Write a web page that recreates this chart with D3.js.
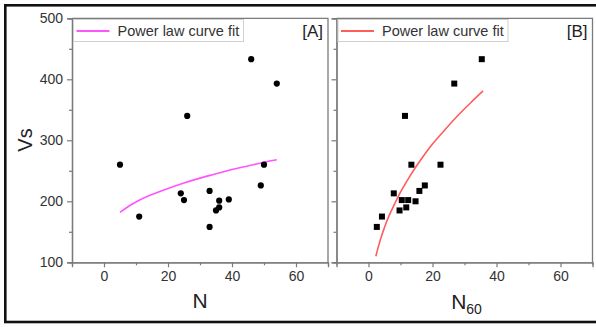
<!DOCTYPE html>
<html><head><meta charset="utf-8">
<script src="https://cdn.jsdelivr.net/npm/d3@7"></script>
<style>
html,body{margin:0;padding:0;background:#fff;}
svg{display:block;font-family:"Liberation Sans",Arial,sans-serif;}
</style></head>
<body>
<svg id="c" width="596" height="327"></svg>
<script>
// Panel A data: N vs Vs
const nA  = [5, 11, 24, 25, 26, 33, 33, 35, 36, 36, 39, 46, 49, 50, 54];
const vsA = [260, 175, 213, 202, 340, 217, 158, 185, 190, 201, 203, 433, 226, 260, 393];
// Panel B data: N60 vs Vs
const nB  = [2.6, 4.2, 7.9, 9.7, 10.4, 11.4, 11.8, 12.4, 13.4, 14.7, 15.9, 17.6, 22.5, 26.8, 35.4];
const vsB = [158, 175, 213, 185, 202, 340, 190, 202, 260, 200, 217, 226, 260, 393, 433];
// Power-law fit curves
const fitNA  = [5, 9, 14, 20, 25, 30, 35, 40, 45, 50, 54];
const fitVsA = [182, 196, 209, 221, 230, 238, 245, 252, 258, 264, 268];
const fitNB  = [2.3, 3, 4, 5, 6, 7, 8, 10, 12, 14, 17, 20, 24, 28, 32, 35.8];
const fitVsB = [110, 124, 142, 157, 171, 183, 194, 215, 233, 250, 273, 294, 318, 341, 362, 381];
// ticks
const yMajor = [100, 200, 300, 400, 500];
const yMinor = [150, 250, 350, 450];
const xMajor = [0, 20, 40, 60];
const xMinor = [10, 30, 50];
const legendText = "Power law curve fit";

const svg = d3.select("#c");
const axisCol = "#7a7a7a", textCol = "#333";

// outer border
svg.append("rect").attr("x", 5.3).attr("y", 5.3).attr("width", 620).attr("height", 316.7)
  .attr("fill", "none").attr("stroke", "#111").attr("stroke-width", 2.6);

const y = d3.scaleLinear().domain([100, 500]).range([262.3, 18.3]);

function panel(x0, x1, xs, ys, fx, fy, color, marker, tag, xlabel, showYLabels) {
  const x = d3.scaleLinear().domain([-10, 70]).range([x0, x1]);
  const g = svg.append("g");
  const styleAxis = sel => {
    sel.select(".domain").attr("stroke", axisCol).attr("stroke-width", 1.3);
    sel.selectAll(".tick line").attr("stroke", axisCol).attr("stroke-width", 1.2);
    sel.selectAll(".tick text").attr("fill", textCol).attr("font-size", 14)
      .attr("font-family", "'Liberation Sans',Arial,sans-serif");
  };
  // y axis
  const ya = d3.axisLeft(y).tickValues(yMajor).tickSize(5).tickPadding(4);
  if (!showYLabels) ya.tickFormat("");
  g.append("g").attr("transform", `translate(${x0},0)`).call(ya).call(styleAxis);
  g.append("g").attr("transform", `translate(${x0},0)`)
    .call(d3.axisLeft(y).tickValues(yMinor).tickSize(3).tickFormat("")).call(styleAxis);
  // x axis
  g.append("g").attr("transform", `translate(0,${y(100)})`)
    .call(d3.axisBottom(x).tickValues(xMajor).tickSize(5).tickPadding(4)).call(styleAxis);
  g.append("g").attr("transform", `translate(0,${y(100)})`)
    .call(d3.axisBottom(x).tickValues(xMinor).tickSize(3).tickFormat("")).call(styleAxis);
  // top and right frame
  g.append("path").attr("d", `M${x0},${y(500)}H${x1}V${y(100)}`)
    .attr("fill", "none").attr("stroke", axisCol).attr("stroke-width", 1.3);

  // fit curve
  const line = d3.line().x((d, i) => x(fx[i])).y((d, i) => y(fy[i])).curve(d3.curveNatural);
  g.append("path").datum(fx).attr("d", line).attr("fill", "none")
    .attr("stroke", color).attr("stroke-width", 1.6);

  // points
  const pts = xs.map((v, i) => [v, ys[i]]);
  if (marker === "circle") {
    g.selectAll("circle.pt").data(pts).join("circle").attr("class", "pt")
      .attr("cx", d => x(d[0])).attr("cy", d => y(d[1])).attr("r", 3.1).attr("fill", "#000");
  } else {
    g.selectAll("rect.pt").data(pts).join("rect").attr("class", "pt")
      .attr("x", d => x(d[0]) - 3).attr("y", d => y(d[1]) - 3)
      .attr("width", 6).attr("height", 6).attr("fill", "#000");
  }

  // legend
  const lx = x0 + 1.5, ly = 19.5;
  g.append("rect").attr("x", lx).attr("y", ly).attr("width", 170).attr("height", 22)
    .attr("fill", "#fff").attr("stroke", "#d0d0d0").attr("stroke-width", 1);
  g.append("line").attr("x1", lx + 3).attr("x2", lx + 36).attr("y1", ly + 11.5).attr("y2", ly + 11.5)
    .attr("stroke", color).attr("stroke-width", 1.8);
  g.append("text").attr("x", lx + 44).attr("y", ly + 16.5).attr("font-size", 14.5)
    .attr("fill", textCol).text(legendText);
  // tag
  g.append("text").attr("x", x1 - 5).attr("y", 37).attr("text-anchor", "end")
    .attr("font-size", 17).attr("fill", "#222").text(tag);

  // x label
  const cx = (x0 + x1) / 2;
  if (xlabel === "N") {
    g.append("text").attr("x", cx).attr("y", 308).attr("text-anchor", "middle")
      .attr("font-size", 21).attr("fill", "#222").text("N");
  } else {
    const t = g.append("text").attr("x", cx + 2).attr("y", 309).attr("text-anchor", "middle")
      .attr("font-size", 21).attr("fill", "#222");
    t.append("tspan").text("N");
    t.append("tspan").attr("font-size", 14).attr("dy", 5).text("60");
  }
}

panel(72, 328, nA, vsA, fitNA, fitVsA, "#ff55ff", "circle", "[A]", "N", true);
panel(336.5, 592.5, nB, vsB, fitNB, fitVsB, "#ff5c5c", "square", "[B]", "N60", false);

// y label
svg.append("text").attr("transform", "translate(32,140) rotate(-90)").attr("text-anchor", "middle")
  .attr("font-size", 20).attr("fill", "#222").text("Vs");
</script>
</body></html>
